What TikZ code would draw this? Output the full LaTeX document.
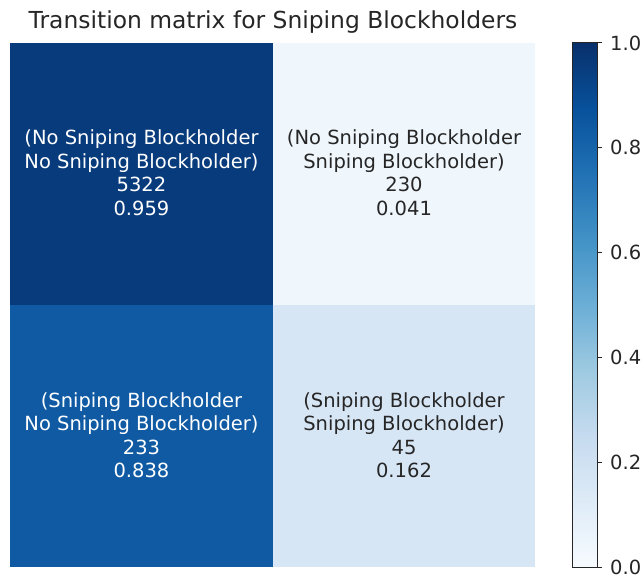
\documentclass[tikz,border=0pt]{standalone}
\usepackage{fontspec}
\setmainfont{DejaVu Sans}
\definecolor{bA}{HTML}{F7FBFF}
\definecolor{bB}{HTML}{DEEBF7}
\definecolor{bC}{HTML}{C6DBEF}
\definecolor{bD}{HTML}{9ECAE1}
\definecolor{bE}{HTML}{6BAED6}
\definecolor{bF}{HTML}{4292C6}
\definecolor{bG}{HTML}{2171B5}
\definecolor{bH}{HTML}{08519C}
\definecolor{bI}{HTML}{08306B}
\definecolor{cellTL}{HTML}{083B7B}
\definecolor{cellTR}{HTML}{EFF6FC}
\definecolor{cellBL}{HTML}{0F5AA3}
\definecolor{cellBR}{HTML}{D7E6F5}
\definecolor{darktext}{HTML}{262626}
% Blues colour map, bottom (0) to top (1)
\pgfdeclareverticalshading{bluesmap}{50bp}{%
  color(0bp)=(bA); color(25bp)=(bA); color(31.25bp)=(bB); color(37.5bp)=(bC);
  color(43.75bp)=(bD); color(50bp)=(bE); color(56.25bp)=(bF); color(62.5bp)=(bG);
  color(68.75bp)=(bH); color(75bp)=(bI); color(100bp)=(bI)}
\begin{document}
\begin{tikzpicture}[x=1pt,y=-1pt,
  cell/.style={draw=none,inner sep=0pt,outer sep=0pt},
  celltext/.style={align=center,inner sep=0pt,font=\fontsize{19.5}{23.5}\selectfont},
  ticklabel/.style={anchor=west,inner sep=0pt,font=\fontsize{19.5}{23.5}\selectfont,text=darktext},
]
\useasboundingbox (0,0) rectangle (644,578);

% title
\node[font=\fontsize{23.4}{28}\selectfont,text=darktext] (title) at (273,22) {Transition matrix for Sniping Blockholders};

% heatmap cells
\fill[cellTL] (10,43) rectangle (273,304.5);
\fill[cellTR] (273,43) rectangle (535,304.5);
\fill[cellBL] (10,304.5) rectangle (273,567);
\fill[cellBR] (273,304.5) rectangle (535,567);

% annotations
\node[celltext,text=white] (t11) at (141.5,172.5) {(No Sniping Blockholder\\No Sniping Blockholder)\\5322\\0.959};
\node[celltext,text=darktext] (t12) at (404,172.5) {(No Sniping Blockholder\\Sniping Blockholder)\\230\\0.041};
\node[celltext,text=white] (t21) at (141.5,435) {(Sniping Blockholder\\No Sniping Blockholder)\\233\\0.838};
\node[celltext,text=darktext] (t22) at (404,435) {(Sniping Blockholder\\Sniping Blockholder)\\45\\0.162};

% colour bar
\shade[shading=bluesmap] (572,43) rectangle (597,567);
\draw[darktext,line width=1pt] (572,43) rectangle (597,567);
\foreach \v/\lab in {0/0.0,1/0.2,2/0.4,3/0.6,4/0.8,5/1.0}{
  \draw[darktext,line width=1pt] (597,567-104.8*\v) -- (602,567-104.8*\v);
  \node[ticklabel] (tick\v) at (610,567-104.8*\v) {\lab};
}
\end{tikzpicture}
\end{document}
